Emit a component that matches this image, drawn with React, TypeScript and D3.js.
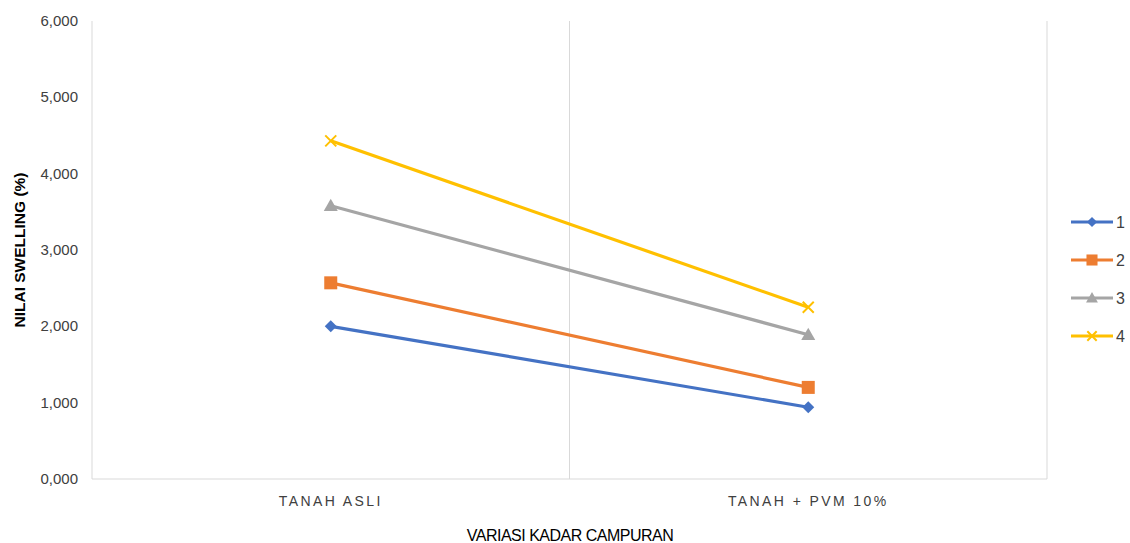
import React from 'react';
import * as d3 from 'd3';

const categories = ['TANAH ASLI', 'TANAH + PVM 10%'];
const seriesNames = ['1', '2', '3', '4'];
const series1 = [2.0, 0.94];
const series2 = [2.57, 1.2];
const series3 = [3.58, 1.89];
const series4 = [4.43, 2.25];
const yTicks = [0, 1, 2, 3, 4, 5, 6];

const W = 1130;
const H = 543;
const margin = { left: 92, right: 83, top: 21, bottom: 64 };
const colors = ['#4472C4', '#ED7D31', '#A5A5A5', '#FFC000'];
const font = 'Liberation Sans, Arial, sans-serif';

function marker(i: number, x: number, y: number, c: string, s = 1) {
  if (i === 0) {
    const r = 6 * s;
    return <path d={`M${x},${y - r}L${x + r},${y}L${x},${y + r}L${x - r},${y}Z`} fill={c} />;
  }
  if (i === 1) {
    const r = 6.5 * s;
    return <rect x={x - r} y={y - r} width={2 * r} height={2 * r} fill={c} />;
  }
  if (i === 2) {
    const r = 7 * s;
    return <path d={`M${x},${y - r}L${x + r},${y + r * 0.75}L${x - r},${y + r * 0.75}Z`} fill={c} />;
  }
  const r = 5.5 * s;
  return (
    <path d={`M${x - r},${y - r}L${x + r},${y + r}M${x - r},${y + r}L${x + r},${y - r}`} stroke={c} strokeWidth={2} />
  );
}

export default function App() {
  const data = [series1, series2, series3, series4];
  const x0 = margin.left;
  const x1 = W - margin.right;
  const y = d3.scaleLinear().domain([0, 6]).range([H - margin.bottom, margin.top]);
  const band = d3.scaleBand<string>().domain(categories).range([x0, x1]).padding(0);
  const cx = (i: number) => (band(categories[i]) as number) + band.bandwidth() / 2;
  const line = d3
    .line<number>()
    .x((_, i) => cx(i))
    .y((d) => y(d));
  const grid = '#d9d9d9';
  const yLabel = (v: number) => d3.format(',')(v) + ',000';
  const sep = band(categories[1]) as number;

  return (
    <svg width={W} height={H} style={{ position: 'absolute', left: 0, top: 0, background: '#fff' }}>
      {/* frame */}
      <line x1={x0} x2={x0} y1={y(6)} y2={y(0)} stroke={grid} />
      <line x1={x1} x2={x1} y1={y(6)} y2={y(0)} stroke={grid} />
      <line x1={sep} x2={sep} y1={y(6)} y2={y(0)} stroke={grid} />
      <line x1={x0} x2={x1} y1={y(0)} y2={y(0)} stroke={grid} />

      {yTicks.map((t) => (
        <text key={t} x={78} y={y(t) + 5} textAnchor="end" fontFamily={font} fontSize={15} fill="#404040">
          {yLabel(t)}
        </text>
      ))}
      <text
        transform={`translate(25,${(y(0) + y(6)) / 2}) rotate(-90)`}
        textAnchor="middle"
        fontFamily={font}
        fontSize={15.5}
        fontWeight="bold"
        fill="#000"
      >
        NILAI SWELLING (%)
      </text>

      {categories.map((c, i) => (
        <text key={c} x={cx(i)} y={506} textAnchor="middle" fontFamily={font} fontSize={14} letterSpacing={2.4} fill="#404040">
          {c}
        </text>
      ))}
      <text x={570} y={541} textAnchor="middle" fontFamily={font} fontSize={16} fill="#000" letterSpacing={-0.5}>
        VARIASI KADAR CAMPURAN
      </text>

      {data.map((d, si) => (
        <g key={si}>
          <path d={line(d) || ''} fill="none" stroke={colors[si]} strokeWidth={3.2} />
          {d.map((v, i) => (
            <g key={i}>{marker(si, cx(i), y(v), colors[si])}</g>
          ))}
        </g>
      ))}

      {seriesNames.map((n, i) => {
        const ly = 222 + i * 38;
        return (
          <g key={n}>
            <line x1={1071} x2={1113} y1={ly} y2={ly} stroke={colors[i]} strokeWidth={3} />
            {marker(i, 1092, ly, colors[i], 0.85)}
            <text x={1116} y={ly + 6} fontFamily={font} fontSize={16} fill="#404040">
              {n}
            </text>
          </g>
        );
      })}
    </svg>
  );
}
